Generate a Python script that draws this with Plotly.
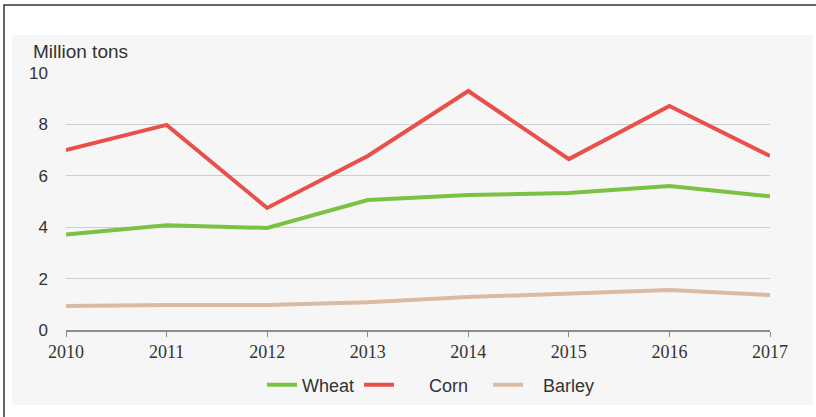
import plotly.graph_objects as go

years = [2010, 2011, 2012, 2013, 2014, 2015, 2016, 2017]
wheat = [3.72, 4.08, 3.97, 5.06, 5.25, 5.33, 5.6, 5.2]
corn = [7.0, 7.98, 4.75, 6.77, 9.3, 6.65, 8.72, 6.77]
barley = [0.93, 0.97, 0.97, 1.08, 1.28, 1.42, 1.56, 1.36]

SANS = "Liberation Sans, Arial, sans-serif"
SERIF = "Liberation Serif, Times New Roman, serif"
NB = "\u00a0"

fig = go.Figure()
fig.add_trace(go.Scatter(x=years, y=wheat, name="Wheat", mode="lines",
                         line=dict(color="#7cc242", width=4)))
fig.add_trace(go.Scatter(x=years, y=corn, name=NB * 6 + "Corn" + NB * 3, mode="lines",
                         line=dict(color="#e8514b", width=4)))
fig.add_trace(go.Scatter(x=years, y=barley, name=NB * 3 + "Barley", mode="lines",
                         line=dict(color="#dcbaa2", width=4)))

# paper coordinate helpers (plot area: x 66..770, y 73..330)
def px(x):
    return (x - 66) / 704.0

def py(y):
    return (330 - y) / 257.0

fig.update_layout(
    width=816, height=417,
    margin=dict(l=66, r=46, t=73, b=87),
    paper_bgcolor="white",
    plot_bgcolor="#f6f6f6",
    font=dict(family=SANS, size=17, color="#333333"),
    showlegend=True,
    legend=dict(orientation="h", x=px(431), xanchor="center", y=py(385), yanchor="middle",
                bgcolor="rgba(0,0,0,0)", font=dict(size=18, family=SANS, color="#333333"),
                tracegroupgap=0),
    xaxis=dict(range=[2010, 2017], tickmode="array", tickvals=years,
               ticktext=[str(y) for y in years],
               showgrid=False, zeroline=False, showline=True,
               linecolor="#8c8c8c", linewidth=1.5,
               ticks="outside", ticklen=5, tickcolor="#8c8c8c",
               tickfont=dict(size=18, family=SERIF, color="#333333")),
    yaxis=dict(range=[0, 10], tickvals=[0, 2, 4, 6, 8, 10],
               showgrid=True, gridcolor="#c9d0d3", gridwidth=1.2,
               zeroline=False, showline=False, ticks="",
               ticklabelstandoff=17,
               tickfont=dict(size=17, family=SANS, color="#333333")),
    shapes=[
        dict(type="rect", xref="paper", yref="paper",
             x0=px(12), x1=px(813), y0=py(405), y1=py(35),
             fillcolor="#f6f6f6", line=dict(width=0), layer="below"),
        dict(type="rect", xref="paper", yref="paper",
             x0=px(4), x1=px(822), y0=py(425), y1=py(5),
             fillcolor="rgba(0,0,0,0)", line=dict(color="#333333", width=1.5)),
    ],
    annotations=[
        dict(text="Million tons", xref="paper", yref="paper",
             x=px(31), y=py(51), xanchor="left", yanchor="middle",
             showarrow=False, font=dict(size=19, family=SANS, color="#333333")),
    ],
)

fig.write_html("out.html")
